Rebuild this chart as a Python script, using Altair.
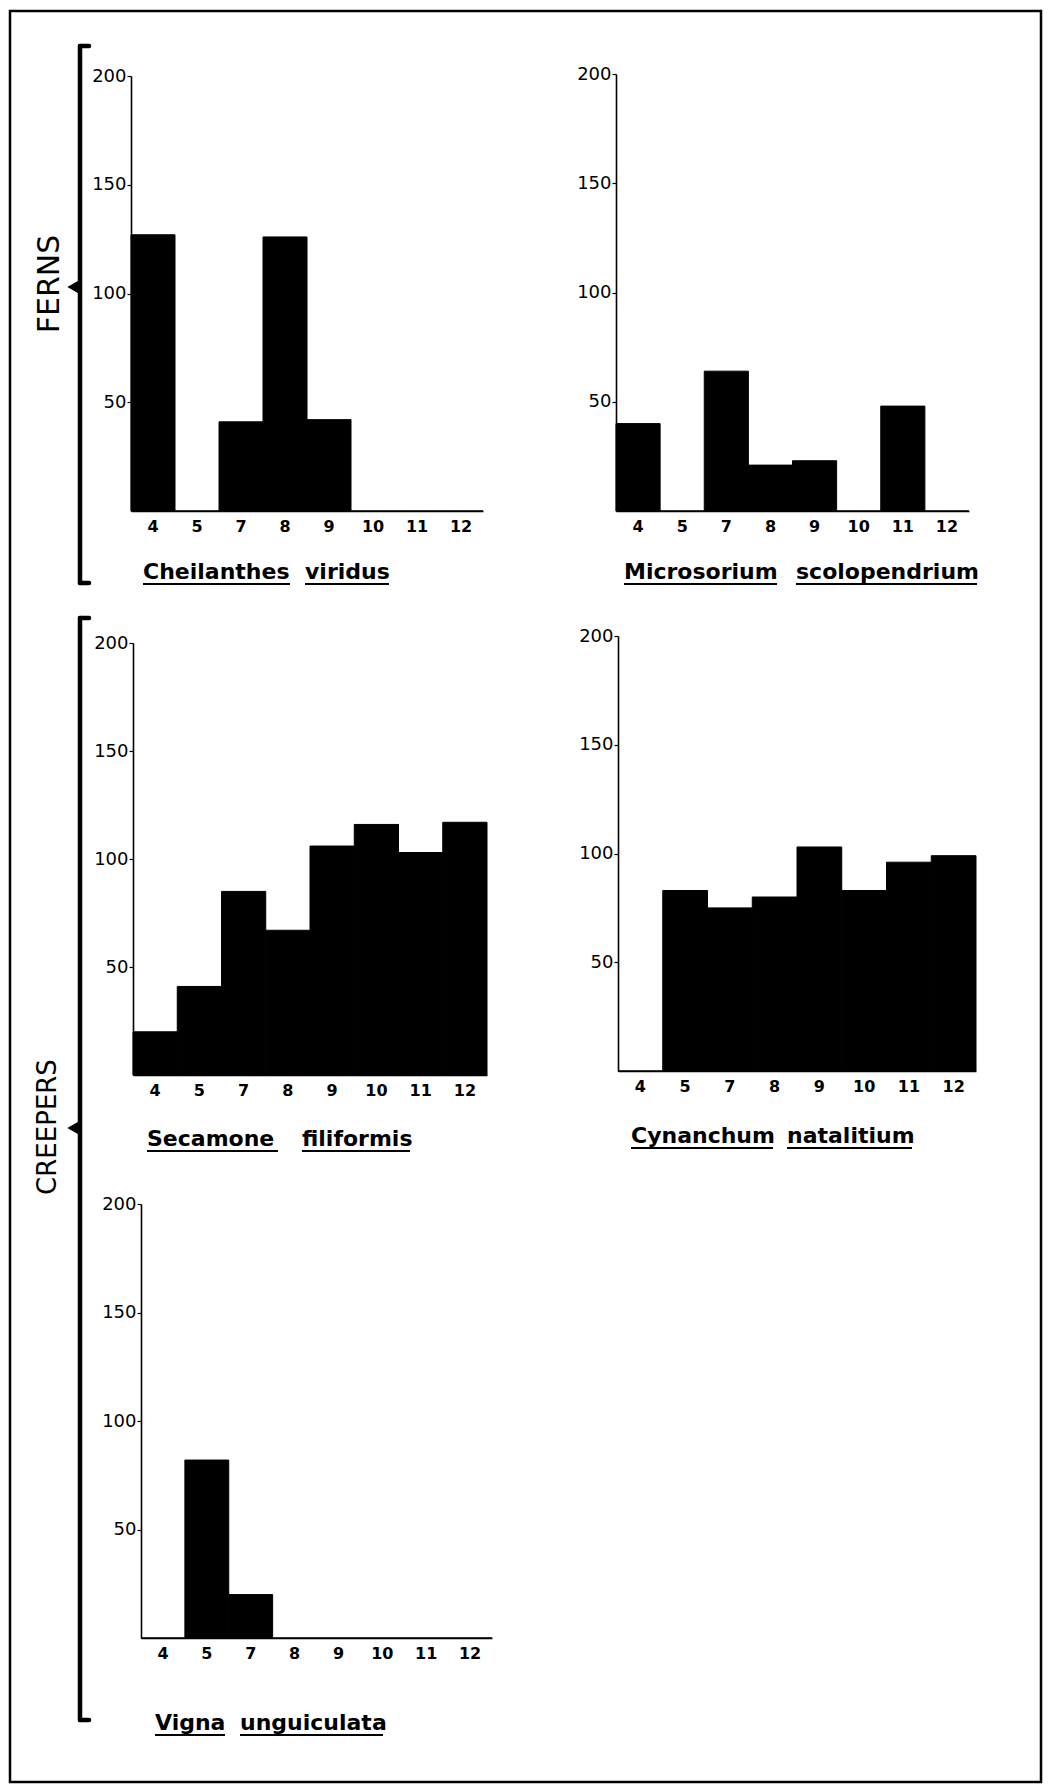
import altair as alt
import pandas as pd

# Months sampled (no sample in month 6)
months = ["4", "5", "7", "8", "9", "10", "11", "12"]

# Counts per month for each species
cheilanthes_viridus = [127, 0, 41, 126, 42, 0, 0, 0]
microsorium_scolopendrium = [40, 0, 64, 21, 23, 0, 48, 0]
secamone_filiformis = [20, 41, 85, 67, 106, 116, 103, 117]
cynanchum_natalitium = [0, 83, 75, 80, 103, 83, 96, 99]
vigna_unguiculata = [0, 82, 20, 0, 0, 0, 0, 0]

y_ticks = [50, 100, 150, 200]

W, H = 1048, 1787
FONT = "DejaVu Sans"

# Page layout of each panel: x of first/last category edge, y of 0 and y of 200
panel_layout = [
    (cheilanthes_viridus, (131, 483, 511, 76)),
    (microsorium_scolopendrium, (616, 969, 511, 74)),
    (secamone_filiformis, (133, 487, 1075, 643)),
    (cynanchum_natalitium, (618, 976, 1071, 636)),
    (vigna_unguiculata, (141, 492, 1638, 1204)),
]

# Species names, one entry per word: word, left x, centre y, underline end x
title_words = pd.DataFrame(
    [
        ("Cheilanthes", 143, 572, 290),
        ("viridus", 305, 572, 389),
        ("Microsorium", 624, 572, 777),
        ("scolopendrium", 796, 572, 977),
        ("Secamone", 147, 1139, 278),
        ("filiformis", 302, 1139, 410),
        ("Cynanchum", 631, 1136, 773),
        ("natalitium", 787, 1136, 912),
        ("Vigna", 155, 1723, 225),
        ("unguiculata", 240, 1723, 383),
    ],
    columns=["word", "x", "y", "x_end"],
)
title_words["y_line"] = title_words["y"] + 12

# Group brackets: label, x of spine, top, bottom, middle (point), label x, label y, label size
groups = pd.DataFrame(
    [
        ("FERNS", 80, 46, 583, 287, 50, 284, 30),
        ("CREEPERS", 80, 618, 1720, 1128, 48, 1127, 26),
    ],
    columns=["label", "x", "top", "bottom", "mid", "lx", "ly", "fs"],
)
groups["hook"] = groups["x"] + 9


def panel(values, frame):
    x0, x1, y0, y1 = frame
    df = pd.DataFrame({"month": months, "count": values})
    return alt.Chart(df).mark_bar(color="black", stroke="black", strokeWidth=1).encode(
        x=alt.X(
            "month:N",
            sort=months,
            scale=alt.Scale(range=[x0, x1], paddingInner=0, paddingOuter=0),
            axis=alt.Axis(
                orient="bottom", offset=y0 - H, title=None, ticks=False,
                domainColor="black", domainWidth=1.6, labelAngle=0,
                labelFont=FONT, labelFontSize=16, labelFontWeight="bold",
                labelColor="black", labelPadding=7,
            ),
        ),
        y=alt.Y(
            "count:Q",
            scale=alt.Scale(domain=[0, 200], range=[y0, y1], nice=False),
            axis=alt.Axis(
                orient="left", offset=-x0, title=None, values=y_ticks, grid=False,
                tickSize=4, tickColor="black", tickWidth=1.2,
                domainColor="black", domainWidth=1.6,
                labelFont=FONT, labelFontSize=18, labelColor="black", labelPadding=1,
            ),
        ),
    )


panels = [panel(v, f) for v, f in panel_layout]

one = pd.DataFrame({"_": [0]})

frame_box = alt.Chart(one).mark_rect(fillOpacity=0, stroke="black", strokeWidth=2.5).encode(
    x=alt.value(10), x2=alt.value(1041), y=alt.value(11), y2=alt.value(1782)
)

px = lambda f: alt.X(f, scale=None, axis=None)
py = lambda f: alt.Y(f, scale=None, axis=None)

spines = alt.Chart(groups).mark_rule(color="black", strokeWidth=4.5, strokeCap="round").encode(
    x=px("x:Q"), y=py("top:Q"), y2="bottom:Q"
)
top_hooks = alt.Chart(groups).mark_rule(color="black", strokeWidth=4.5, strokeCap="round").encode(
    x=px("x:Q"), x2="hook:Q", y=py("top:Q")
)
bottom_hooks = alt.Chart(groups).mark_rule(color="black", strokeWidth=4.5, strokeCap="round").encode(
    x=px("x:Q"), x2="hook:Q", y=py("bottom:Q")
)
points = alt.Chart(groups).mark_point(
    shape="triangle-left", filled=True, color="black", size=170, opacity=1
).encode(x=alt.value(73), y=py("mid:Q"))
group_labels = alt.Chart(groups).mark_text(
    angle=270, font=FONT, color="black", align="center", baseline="middle"
).encode(
    x=px("lx:Q"), y=py("ly:Q"), text="label:N",
    size=alt.Size("fs:Q", scale=None, legend=None),
)

names = alt.Chart(title_words).mark_text(
    font=FONT, fontSize=22, fontWeight="bold", color="black", align="left", baseline="middle"
).encode(x=px("x:Q"), y=py("y:Q"), text="word:N")
underlines = alt.Chart(title_words).mark_rule(color="black", strokeWidth=2).encode(
    x=px("x:Q"), x2="x_end:Q", y=py("y_line:Q")
)

chart = (
    alt.layer(*panels, frame_box, spines, top_hooks, bottom_hooks, points, group_labels, names, underlines)
    .resolve_scale(x="independent", y="independent")
    .resolve_axis(x="independent", y="independent")
    .properties(width=W, height=H, autosize=alt.AutoSizeParams(type="none"), padding=0, background="white")
    .configure_view(stroke=None)
)

chart.save("out.html", embed_options={"renderer": "svg", "actions": False})
